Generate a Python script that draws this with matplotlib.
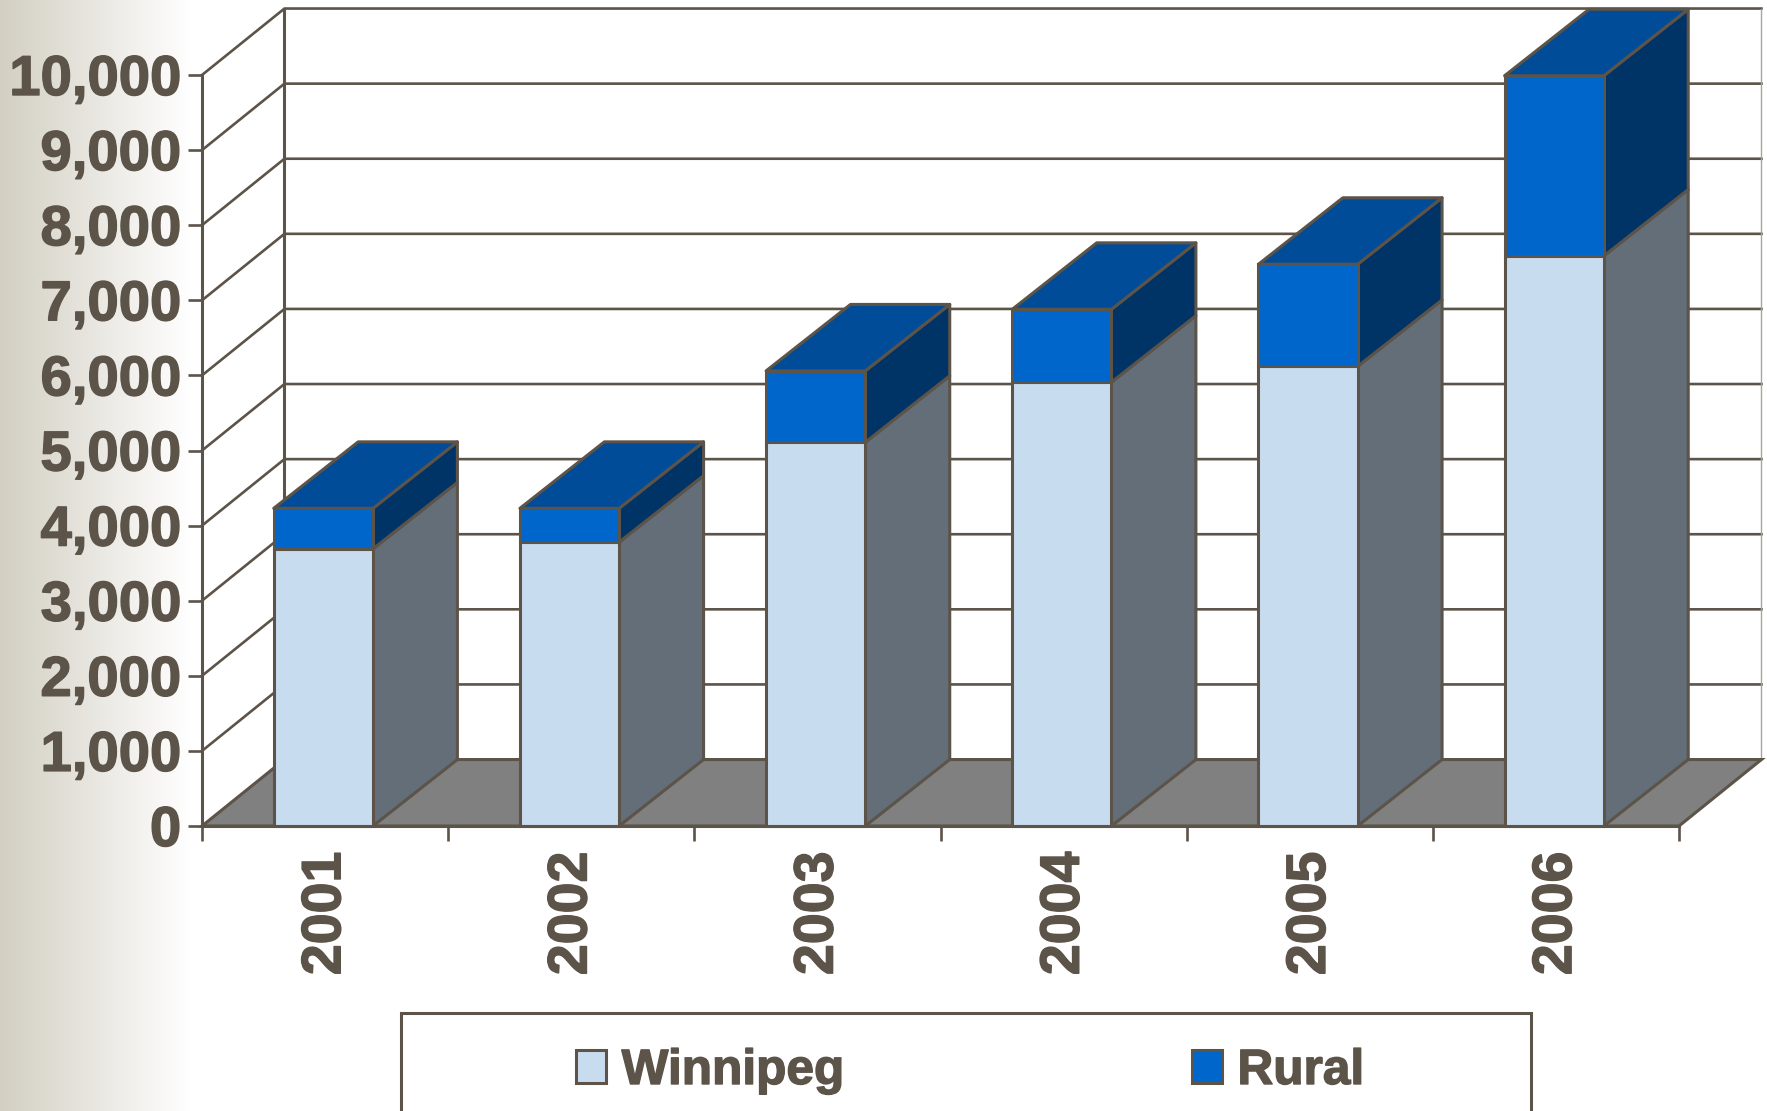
import numpy as np
from matplotlib import pyplot as plt
from matplotlib.patches import Rectangle, Polygon
import matplotlib.patheffects as pe

years = ["2001","2002","2003","2004","2005","2006"]
winnipeg = [3690, 3780, 5110, 5910, 6120, 7590]
rural = [540, 450, 950, 970, 1360, 2400]
y_ticks = [0,1000,2000,3000,4000,5000,6000,7000,8000,9000,10000]

W = 1767
H = 1111
ink = "#5c5349"
col_win = "#c8dcf0"
col_rur = "#0066cc"
side_win = "#636e79"
side_rur = "#003366"
top_rur = "#004c99"
floor = "#808080"

# 3d offset in data units: walls are a touch shallower than the bars
wall_dx = 0.335
dx = 0.343
dy = 885
bw = 0.403
lw_edge = 2.2
lw_grid = 1.9
heavy = [pe.withStroke(linewidth=1.0,foreground=ink)]

plt.rcParams['font.family'] = ['Liberation Sans', 'DejaVu Sans']
plt.rcParams['font.weight'] = 'bold'

fig = plt.figure(figsize=(W/100,H/100),dpi=100)

# background fade on the left
bg = fig.add_axes([0,0,1,1],zorder=0)
grad = np.clip(np.arange(W)/190.0,0,1)
start = np.array([0xd3,0xcf,0xc3])/255.0
img = np.zeros((1,W,3))
for c in range(3):
    img[0,:,c] = start[c] + (1-start[c])*grad
bg.imshow(img,aspect='auto',extent=[0,1,0,1])
bg.axis('off')

# x 0..6 is 202..1679 px, y 0..10000 is 826..75 px
ax = fig.add_axes([202/W,1-826/H,(1679-202)/W,(826-75)/H],zorder=1)
ax.patch.set_alpha(0)
ax.set_xlim(0,6)
ax.set_ylim(0,10000)

# walls
ax.add_patch(Polygon([(0,0),(wall_dx,dy),(wall_dx,10000+dy),(0,10000)],fc='white',ec='none',clip_on=False,zorder=1))
ax.add_patch(Rectangle((wall_dx,dy),6,10000,fc='white',ec='none',clip_on=False,zorder=1))
for v in y_ticks[1:]:
    ax.plot([0,wall_dx,6+wall_dx],[v,v+dy,v+dy],color=ink,lw=lw_grid,clip_on=False,zorder=2)
ax.plot([wall_dx,wall_dx],[dy,10000+dy],color=ink,lw=lw_edge,clip_on=False,zorder=2)
ax.plot([6+wall_dx,6+wall_dx],[dy,10000+dy],color="#a8a49e",lw=1.0,clip_on=False,zorder=2)

# floor
ax.add_patch(Polygon([(0,0),(6,0),(6+wall_dx,dy),(wall_dx,dy)],fc=floor,ec=ink,lw=lw_edge,clip_on=False,zorder=3))

# bars
edge = dict(ec=ink,lw=lw_edge,joinstyle='round',clip_on=False)
for i in range(len(years)):
    x0 = i+0.493-bw/2
    x1 = x0+bw
    w = winnipeg[i]
    t = w+rural[i]
    z = 4+i*0.01
    ax.add_patch(Polygon([(x1,0),(x1+dx,dy),(x1+dx,w+dy),(x1,w)],fc=side_win,zorder=z,**edge))
    ax.add_patch(Polygon([(x1,w),(x1+dx,w+dy),(x1+dx,t+dy),(x1,t)],fc=side_rur,zorder=z,**edge))
    ax.add_patch(Polygon([(x0,t),(x1,t),(x1+dx,t+dy),(x0+dx,t+dy)],fc=top_rur,zorder=z,**edge))
    ax.bar(i+0.493,w,bw,color=col_win,edgecolor=ink,linewidth=lw_edge,clip_on=False,zorder=z,label="Winnipeg" if i==0 else None)
    ax.bar(i+0.493,rural[i],bw,bottom=w,color=col_rur,edgecolor=ink,linewidth=lw_edge,clip_on=False,zorder=z,label="Rural" if i==0 else None)

# axes
for s in ['top','right']:
    ax.spines[s].set_visible(False)
for s in ['left','bottom']:
    ax.spines[s].set_color(ink)
    ax.spines[s].set_linewidth(lw_edge)
    ax.spines[s].set_zorder(6)

ax.set_yticks(y_ticks)
ax.set_yticklabels([format(v,",") for v in y_ticks])
ax.tick_params(axis='y',length=10,width=lw_grid,color=ink,labelcolor=ink,labelsize=40.5,pad=5)
ax.set_xticks(range(7))
ax.set_xticklabels([])
ax.tick_params(axis='x',which='major',length=11,width=lw_grid,color=ink)
ax.set_xticks(np.arange(6)+0.505,minor=True)
ax.set_xticklabels(years,minor=True,rotation=90,color=ink,fontsize=40)
ax.tick_params(axis='x',which='minor',length=0,pad=18.5)
for lab in ax.get_yticklabels()+ax.get_xticklabels(minor=True):
    lab.set_path_effects(heavy)

# legend frame runs off the bottom of the figure
fig.add_artist(Rectangle((401/W,-0.02),(1531-401)/W,1-1013/H+0.02,fc='white',ec=ink,lw=lw_edge,transform=fig.transFigure))
leg = ax.legend(loc='upper left',bbox_to_anchor=(576/W,1-1048/H),bbox_transform=fig.transFigure,
                ncol=2,frameon=False,fontsize=35.7,labelcolor=ink,borderpad=0,borderaxespad=0,
                handlelength=0.6,handleheight=0.65,handletextpad=0.32,columnspacing=7.0)
for lab in leg.get_texts():
    lab.set_path_effects(heavy)
leg.remove()
fig.add_artist(leg)

fig.savefig("out.png",dpi=100)
